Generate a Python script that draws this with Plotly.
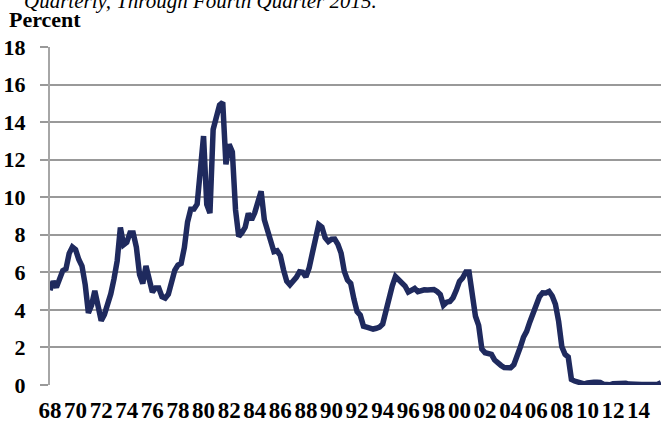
import plotly.graph_objects as go

# Quarterly rate, 1968Q1 through 2015Q4 (percent)
years = list(range(1968, 2016))
rate = [
    5.05, 5.52, 5.20, 5.58,   # 1968
    6.09, 6.19, 7.01, 7.35,   # 1969
    7.21, 6.68, 6.33, 5.35,   # 1970
    3.84, 4.25, 5.01, 4.23,   # 1971
    3.43, 3.75, 4.24, 4.85,   # 1972
    5.64, 6.61, 8.39, 7.47,   # 1973
    7.60, 8.10, 8.10, 7.34,   # 1974
    5.88, 5.40, 6.34, 5.68,   # 1975
    4.95, 5.17, 5.17, 4.70,   # 1976
    4.63, 4.84, 5.50, 6.11,   # 1977
    6.39, 6.48, 7.32, 8.68,   # 1978
    9.36, 9.37, 9.63, 11.80,  # 1979
    13.26, 9.62, 9.15, 13.61, # 1980
    14.39, 14.91, 15.05, 11.75,  # 1981
    12.81, 12.42, 9.32, 7.91,   # 1982
    8.11, 8.40, 9.14, 8.80,   # 1983
    9.17, 9.80, 10.32, 8.80,  # 1984
    8.18, 7.52, 7.10, 7.15,   # 1985
    6.89, 6.13, 5.53, 5.34,   # 1986
    5.53, 5.73, 6.03, 6.00,   # 1987
    5.76, 6.23, 7.01, 7.73,   # 1988
    8.54, 8.41, 7.84, 7.64,   # 1989
    7.76, 7.77, 7.49, 7.02,   # 1990
    6.05, 5.59, 5.41, 4.58,   # 1991
    3.91, 3.72, 3.13, 3.08,   # 1992
    2.99, 2.98, 3.02, 3.08,   # 1993
    3.25, 4.04, 4.51, 5.28,   # 1994
    5.78, 5.62, 5.38, 5.27,   # 1995
    4.95, 5.04, 5.14, 4.97,   # 1996
    5.06, 5.07, 5.06, 5.09,   # 1997
    5.08, 4.98, 4.82, 4.25,   # 1998
    4.41, 4.45, 4.65, 5.04,   # 1999
    5.52, 5.71, 6.02, 6.02,   # 2000
    4.82, 3.66, 3.17, 1.91,   # 2001
    1.72, 1.70, 1.63, 1.33,   # 2002
    1.16, 1.04, 0.93, 0.92,   # 2003
    0.92, 1.08, 1.49, 2.01,   # 2004
    2.54, 2.86, 3.36, 3.83,   # 2005
    4.38, 4.70, 4.91, 4.90,   # 2006
    4.98, 4.74, 4.30, 3.39,   # 2007
    2.04, 1.63, 1.49, 0.30,   # 2008
    0.21, 0.17, 0.16, 0.06,   # 2009
    0.11, 0.15, 0.15, 0.14,   # 2010
    0.13, 0.04, 0.02, 0.01,   # 2011
    0.07, 0.09, 0.10, 0.09,   # 2012
    0.09, 0.05, 0.03, 0.06,   # 2013
    0.05, 0.03, 0.03, 0.02,   # 2014
    0.03, 0.02, 0.04, 0.12,   # 2015
]
tick_years = list(range(1968, 2016, 2))
tick_labels = [f"{y % 100:02d}" for y in tick_years]
y_ticks = list(range(0, 20, 2))

quarters = [y + q / 4 for y in years for q in range(4)]

SERIF = "Liberation Serif, Times New Roman, serif"
GRID = "#999999"

fig = go.Figure()
fig.add_trace(go.Scatter(
    x=quarters, y=rate, mode="lines",
    line=dict(color="#1F2A5E", width=5.5),
    hoverinfo="skip", showlegend=False,
))

fig.update_layout(
    width=661, height=426,
    margin=dict(l=50, r=0, t=47, b=41),
    paper_bgcolor="white", plot_bgcolor="white",
    xaxis=dict(
        range=[1968, 2015.75],
        tickmode="array", tickvals=tick_years,
        ticktext=[f"<b>{t}</b>" for t in tick_labels],
        ticks="", showgrid=False, zeroline=False, showline=False,
        tickfont=dict(family=SERIF, size=23, color="black"),
        ticklabelstandoff=9,
    ),
    yaxis=dict(
        range=[0, 18],
        tickmode="array", tickvals=y_ticks,
        ticktext=[f"<b>{v}</b>" for v in y_ticks],
        ticks="outside", ticklen=8, tickcolor=GRID, tickwidth=2,
        showgrid=True, gridcolor=GRID, gridwidth=2,
        zeroline=False, showline=True, linecolor="#a6a6a6", linewidth=2,
        tickfont=dict(family=SERIF, size=22, color="black"),
        ticklabelstandoff=10,
    ),
    annotations=[
        dict(text="<i>Quarterly, Through Fourth Quarter 2015.</i>",
             xref="paper", yref="paper", x=-0.0458, y=1.136,
             xanchor="left", yanchor="middle", showarrow=False,
             font=dict(family=SERIF, size=21, color="black")),
        dict(text="<b>Percent</b>",
             xref="paper", yref="paper", x=-0.0704, y=1.081,
             xanchor="left", yanchor="middle", showarrow=False,
             font=dict(family=SERIF, size=22, color="black")),
    ],
)

fig.write_html("out.html")
